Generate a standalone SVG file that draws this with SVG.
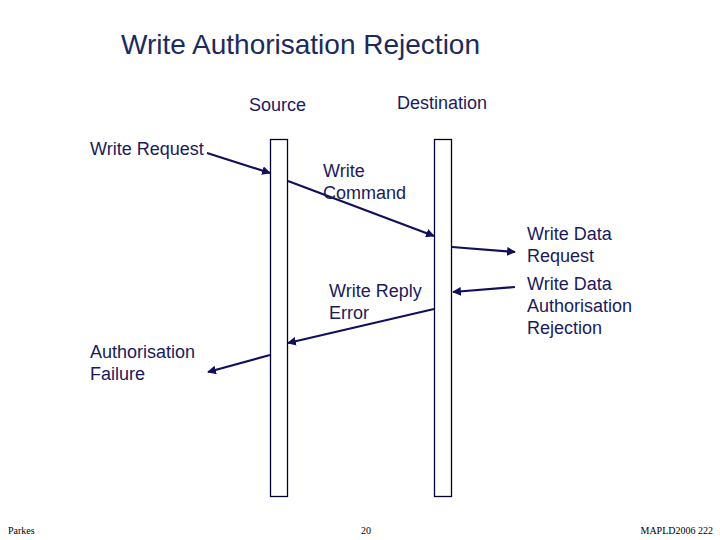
<svg xmlns="http://www.w3.org/2000/svg" width="720" height="540" viewBox="0 0 720 540">
<style>
.t{font-family:"Liberation Sans",Arial,sans-serif;font-size:18px;fill:#1a1a5c}
.title{font-family:"Liberation Sans",Arial,sans-serif;font-size:28px;fill:#1c2a5c}
.f{font-family:"Liberation Serif","Times New Roman",serif;font-size:10px;fill:#000}
.life{fill:#fff;stroke:#000033;stroke-width:1.3}
.c{stroke:#10105a;stroke-width:2.2;fill:none;marker-end:url(#ah)}
</style>
<defs>
<marker id="ah" viewBox="0 0 10 10" refX="9" refY="5" markerWidth="4" markerHeight="4" orient="auto" markerUnits="strokeWidth">
<path d="M0,0 L10,5 L0,10 z" fill="#10105a"/>
</marker>
</defs>
<rect width="720" height="540" fill="#fff"/>
<text class="title" x="121" y="54">Write Authorisation Rejection</text>
<g id="source">
<rect class="life" x="270.5" y="139.5" width="17" height="357"/>
<text class="t" x="249" y="111">Source</text>
</g>
<g id="destination">
<rect class="life" x="434.5" y="139.5" width="17" height="357"/>
<text class="t" x="397" y="109">Destination</text>
</g>
<g id="connectors">
<line class="c" x1="207" y1="153" x2="270" y2="173"/>
<line class="c" x1="288" y1="181" x2="434" y2="236"/>
<line class="c" x1="452" y1="247" x2="515" y2="252"/>
<line class="c" x1="515" y1="287" x2="453" y2="292"/>
<line class="c" x1="434" y1="309" x2="288" y2="343"/>
<line class="c" x1="270" y1="355" x2="208" y2="372"/>
</g>
<g id="labels">
<text class="t" x="90" y="155">Write Request</text>
<text class="t" x="323" y="177">Write</text>
<text class="t" x="323" y="199">Command</text>
<text class="t" x="527" y="240">Write Data</text>
<text class="t" x="527" y="262">Request</text>
<text class="t" x="329" y="297">Write Reply</text>
<text class="t" x="329" y="319">Error</text>
<text class="t" x="527" y="290">Write Data</text>
<text class="t" x="527" y="312">Authorisation</text>
<text class="t" x="527" y="334">Rejection</text>
<text class="t" x="90" y="358">Authorisation</text>
<text class="t" x="90" y="380">Failure</text>
</g>
<text class="f" x="8" y="534">Parkes</text>
<text class="f" x="361" y="534">20</text>
<text class="f" x="713" y="534" text-anchor="end">MAPLD2006 222</text>
</svg>
